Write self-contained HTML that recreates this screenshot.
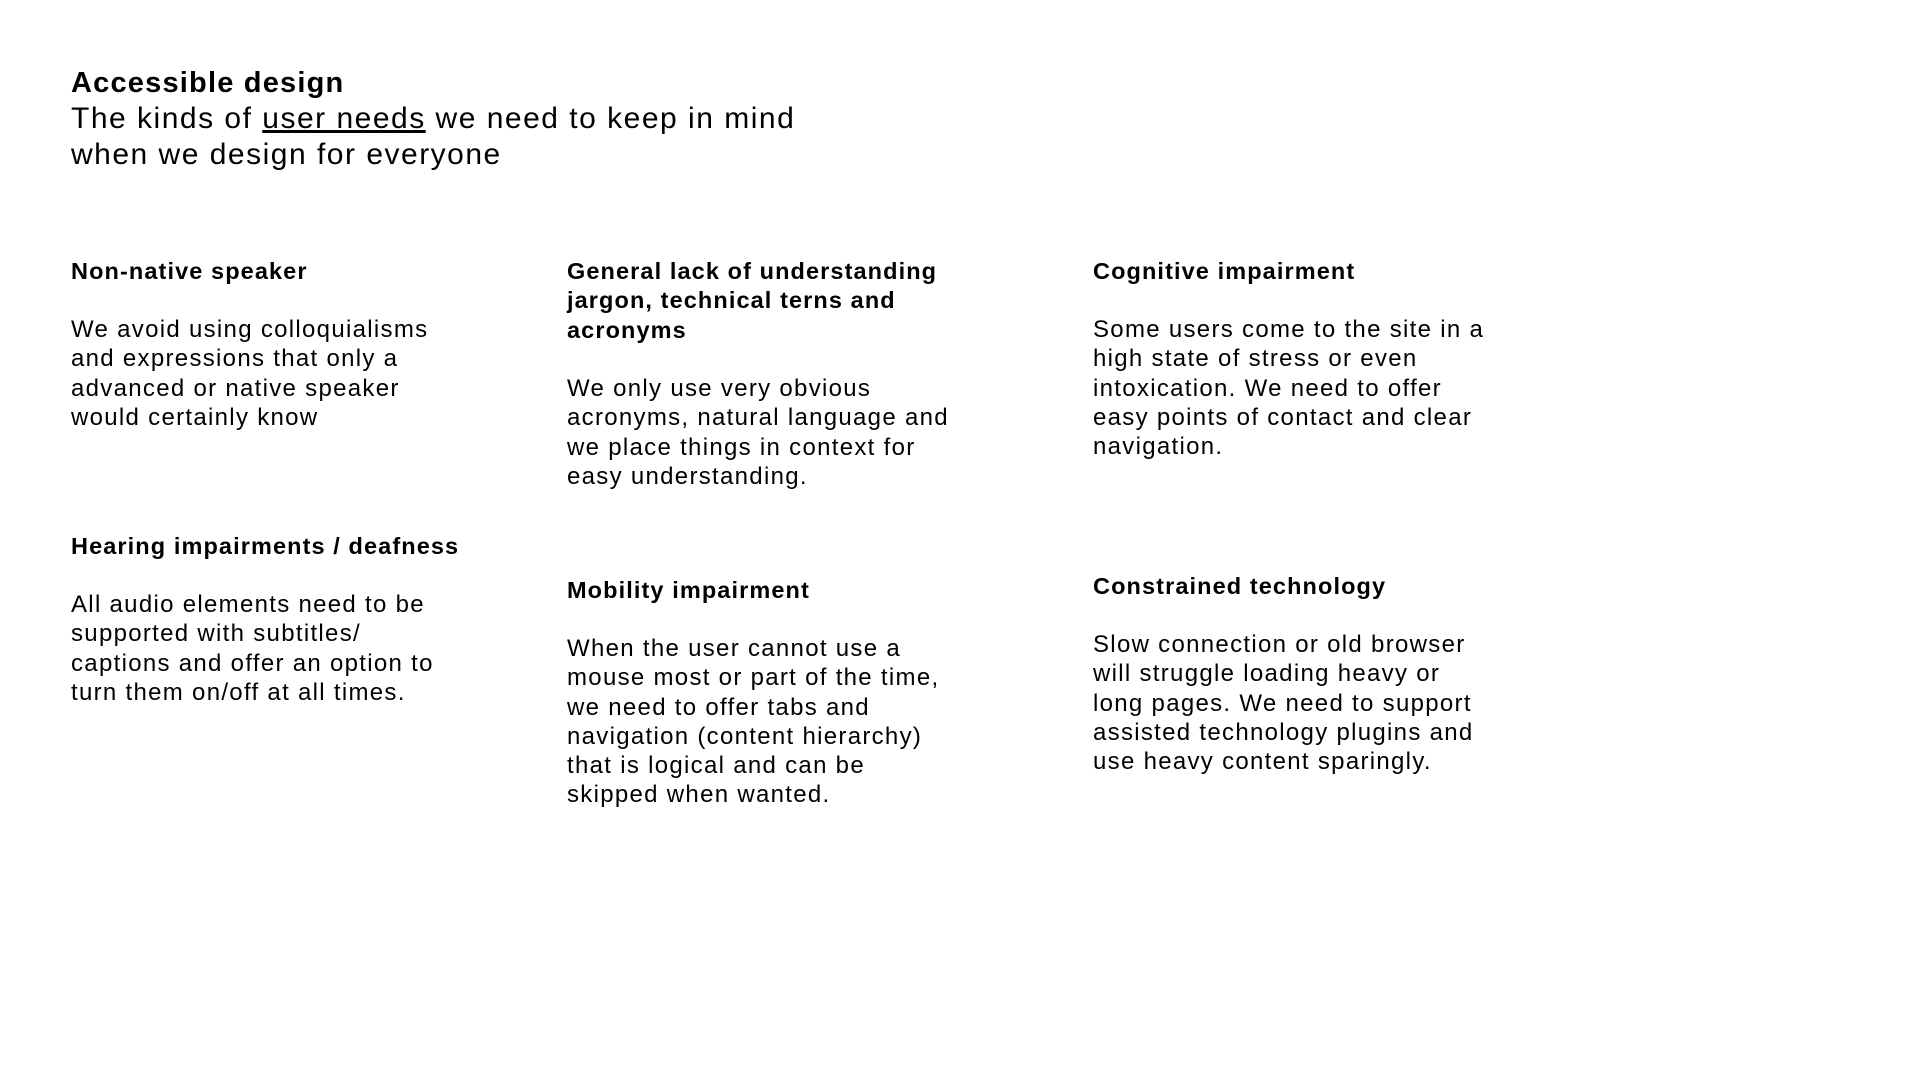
<!DOCTYPE html>
<html><head><meta charset="utf-8"><style>
body{margin:0;width:1911px;height:1078px;background:#fff;position:relative;overflow:hidden;font-family:"Liberation Sans",sans-serif;color:#000}
.a{position:absolute;font-size:24px;line-height:29.3px;margin:0;letter-spacing:1.3px;white-space:nowrap}
h3.a{font-weight:bold;font-size:23.5px;letter-spacing:1.1px}
.t{position:absolute;left:71px;font-size:30px;line-height:36.4px;letter-spacing:1.5px;white-space:nowrap}
</style></head><body>
<div class="t" style="top:65px;font-weight:bold;font-size:29px;letter-spacing:1.2px">Accessible design</div>
<div class="t" style="top:101px">The kinds of <u>user needs</u> we need to keep in mind<br>when we design for everyone</div>

<h3 class="a" style="left:71px;top:257px">Non-native speaker</h3>
<p class="a" style="left:71px;top:315px">We avoid using colloquialisms<br>and expressions that only a<br>advanced or native speaker<br>would certainly know</p>

<h3 class="a" style="left:567px;top:257px">General lack of understanding<br>jargon, technical terns and<br>acronyms</h3>
<p class="a" style="left:567px;top:374px">We only use very obvious<br>acronyms, natural language and<br>we place things in context for<br>easy understanding.</p>

<h3 class="a" style="left:1093px;top:257px">Cognitive impairment</h3>
<p class="a" style="left:1093px;top:315px">Some users come to the site in a<br>high state of stress or even<br>intoxication. We need to offer<br>easy points of contact and clear<br>navigation.</p>

<h3 class="a" style="left:71px;top:532px">Hearing impairments / deafness</h3>
<p class="a" style="left:71px;top:590px">All audio elements need to be<br>supported with subtitles/<br>captions and offer an option to<br>turn them on/off at all times.</p>

<h3 class="a" style="left:567px;top:576px">Mobility impairment</h3>
<p class="a" style="left:567px;top:634px">When the user cannot use a<br>mouse most or part of the time,<br>we need to offer tabs and<br>navigation (content hierarchy)<br>that is logical and can be<br>skipped when wanted.</p>

<h3 class="a" style="left:1093px;top:572px">Constrained technology</h3>
<p class="a" style="left:1093px;top:630px">Slow connection or old browser<br>will struggle loading heavy or<br>long pages. We need to support<br>assisted technology plugins and<br>use heavy content sparingly.</p>
</body></html>
